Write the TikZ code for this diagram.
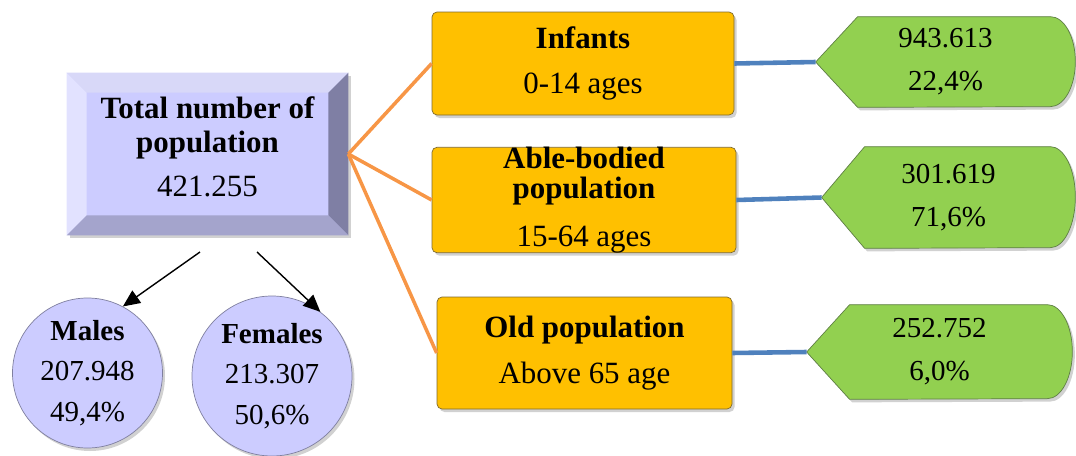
\documentclass[tikz,border=0pt]{standalone}
\usepackage{fontspec}
\setmainfont{Liberation Serif}
\usetikzlibrary{arrows.meta,shadows,backgrounds}

\definecolor{facebl}{HTML}{CCCCFF}
\definecolor{beveltop}{HTML}{D8D8F8}
\definecolor{bevelleft}{HTML}{E2E2FF}
\definecolor{bevelright}{HTML}{7F7FA4}
\definecolor{bevelbottom}{HTML}{A4A4CC}
\definecolor{agefill}{HTML}{FFC000}
\definecolor{ageedge}{HTML}{7F6A30}
\definecolor{valfill}{HTML}{92D050}
\definecolor{valedge}{HTML}{5F7F45}
\definecolor{circedge}{HTML}{7F7F9F}
\definecolor{linkorange}{HTML}{F79646}
\definecolor{barblue}{HTML}{4F81BD}

\begin{document}
\begin{tikzpicture}[
    % Define styles
    softshadow/.style={
        drop shadow={shadow xshift=0.05cm, shadow yshift=-0.06cm, opacity=0.3, fill=black!60}
    },
    bevelbox/.style={
        rectangle,
        fill=facebl,
        minimum width=5.62cm,
        minimum height=3.24cm,
        inner sep=0pt,
        softshadow
    },
    agebox/.style={
        rectangle,
        rounded corners=0.1cm,
        draw=ageedge,
        fill=agefill,
        inner sep=0pt,
        minimum height=2.06cm,
        align=center,
        font=\fontsize{17.6}{25.5}\selectfont,
        softshadow
    },
    valtext/.style={
        align=center,
        inner sep=0pt,
        font=\fontsize{16.5}{24.4}\selectfont
    },
    valshape/.style={
        draw=valedge,
        fill=valfill,
        softshadow
    },
    sexcircle/.style={
        circle,
        draw=circedge,
        fill=facebl,
        inner sep=0pt,
        align=center,
        font=\fontsize{16.5}{23.2}\selectfont,
        softshadow
    },
    link/.style={
        line width=2pt,
        draw=linkorange
    },
    bar/.style={
        line width=2.6pt,
        draw=barblue
    },
    arrow/.style={
        -{Triangle[length=0.34cm, width=0.3cm]},
        line width=0.8pt
    }
]

% Page frame
\useasboundingbox (0,0) rectangle (21.52,-9.12);

% Total box with bevel
\node[bevelbox] (total) at (4.15,-3.08) {};
\fill[beveltop] (total.north west) -- (total.north east) -- ([shift={(-0.4,-0.4)}]total.north east) -- ([shift={(0.4,-0.4)}]total.north west) -- cycle;
\fill[bevelleft] (total.north west) -- ([shift={(0.4,-0.4)}]total.north west) -- ([shift={(0.4,0.4)}]total.south west) -- (total.south west) -- cycle;
\fill[bevelright] (total.north east) -- (total.south east) -- ([shift={(-0.4,0.4)}]total.south east) -- ([shift={(-0.4,-0.4)}]total.north east) -- cycle;
\fill[bevelbottom] (total.south west) -- (total.south east) -- ([shift={(-0.4,0.4)}]total.south east) -- ([shift={(0.4,0.4)}]total.south west) -- cycle;
\node[align=center, font=\fontsize{17.6}{19.5}\selectfont\bfseries] (totaltext) at ([yshift=0.15cm]total.center) {Total number of\\population\\[5.5pt]{\mdseries 421.255}};

% Age group boxes
\node[agebox, minimum width=6.04cm] (infants) at (11.66,-1.27) {\textbf{Infants}\\0-14 ages};
\node[agebox, minimum width=6.08cm, font=\fontsize{17.6}{17}\selectfont] (able) at (11.68,-4.0) {\textbf{Able-bodied}\\\textbf{population}\\[10pt]15-64 ages};
\node[agebox, minimum width=5.9cm, minimum height=2.24cm, font=\fontsize{17.6}{26}\selectfont] (old) at (11.69,-7.06) {\textbf{Old population}\\Above 65 age};

% Value labels
\node[valtext, minimum width=5.18cm, minimum height=1.8cm] (infantsval) at (18.91,-1.24) {943.613\\22,4\%};
\node[valtext, minimum width=5.06cm, minimum height=2.02cm] (ableval) at (18.97,-3.95) {301.619\\71,6\%};
\node[valtext, minimum width=5.3cm, minimum height=1.88cm] (oldval) at (18.79,-7.04) {252.752\\6,0\%};

% Value shapes behind the labels
\begin{scope}[on background layer]
\path[valshape] (infantsval.west) -- ([xshift=0.84cm]infantsval.north west) -- ([xshift=-0.5cm]infantsval.north east) arc[start angle=90, end angle=-90, x radius=0.5cm, y radius=0.9cm] -- ([xshift=0.84cm]infantsval.south west) -- cycle;
\path[valshape] (ableval.west) -- ([xshift=0.86cm]ableval.north west) -- ([xshift=-0.5cm]ableval.north east) arc[start angle=90, end angle=-90, x radius=0.5cm, y radius=1.01cm] -- ([xshift=0.86cm]ableval.south west) -- cycle;
\path[valshape] (oldval.west) -- ([xshift=0.86cm]oldval.north west) -- ([xshift=-0.5cm]oldval.north east) arc[start angle=90, end angle=-90, x radius=0.5cm, y radius=0.94cm] -- ([xshift=0.86cm]oldval.south west) -- cycle;
\end{scope}

% Males and females
\node[sexcircle, minimum size=3.0cm] (males) at (1.75,-7.46) {\textbf{Males}\\207.948\\49,4\%};
\node[sexcircle, minimum size=3.2cm] (females) at (5.44,-7.52) {\textbf{Females}\\213.307\\50,6\%};

% Orange links to the age groups
\draw[link] (total.east) -- (infants.west);
\draw[link] (total.east) -- (able.west);
\draw[link] (total.east) -- (old.west);

% Blue bars to the values
\draw[bar] (infants.east) -- (infantsval.west);
\draw[bar] (able.east) -- (ableval.west);
\draw[bar] (old.east) -- (oldval.west);

% Split arrows
\coordinate (mstart) at (4.0,-5.04);
\coordinate (fstart) at (5.14,-5.04);
\draw[arrow] (mstart) -- (males.62);
\draw[arrow] (fstart) -- (females.53);
\end{tikzpicture}
\end{document}
